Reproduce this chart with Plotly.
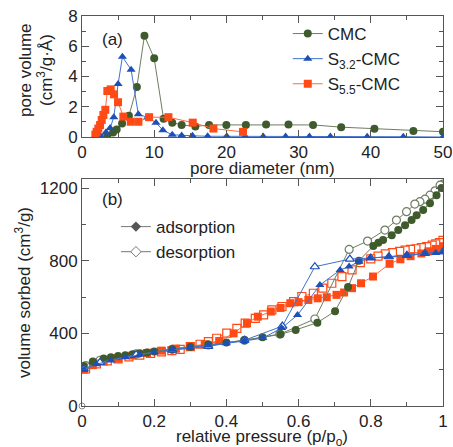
import plotly.graph_objects as go

# ---- (a) pore size distribution: pore diameter (nm) vs pore volume (cm3/g/A) ----
cmc_d = [3.5, 4.3, 4.8, 5.55, 6.5, 7.6, 8.65, 10.0, 11.3, 12.5, 13.8, 15.7, 17.6, 20.0, 22.7, 25.5, 28.6, 32.0, 35.9, 40.5, 45.9, 50.0]
cmc_v = [0.1, 0.3, 0.5, 0.9, 1.4, 3.3, 6.7, 5.2, 1.2, 0.95, 0.8, 0.7, 0.8, 0.8, 0.8, 0.82, 0.82, 0.8, 0.65, 0.55, 0.4, 0.35]

s32_d = [1.8, 2.5, 3.3, 3.9, 4.4, 5.0, 5.6, 6.8, 7.8, 9.1, 10.25, 11.2, 12.5, 13.8, 15.3, 17.4, 20.05, 22.6, 25.1, 28.2, 31.5, 34.4, 39.5, 44.5, 50.0]
s32_v = [0.05, 0.1, 0.3, 0.6, 1.3, 3.5, 5.3, 4.45, 1.5, 1.3, 0.95, 0.45, 0.15, 0.1, 0.08, 0.05, 0.05, 0.04, 0.03, 0.03, 0.03, 0.03, 0.02, 0.02, 0.0]

s55_d = [1.85, 2.03, 2.26, 2.5, 2.73, 2.96, 3.23, 3.51, 3.97, 4.44, 4.99, 5.73, 6.75, 7.81, 9.29, 11.97, 15.34, 18.2, 22.3]
s55_v = [0.16, 0.34, 0.56, 0.79, 1.13, 1.46, 1.8, 3.04, 3.15, 2.82, 2.3, 1.35, 1.01, 1.01, 1.31, 1.31, 0.95, 0.56, 0.34]

# ---- (b) N2 isotherms: relative pressure vs volume sorbed (cm3/g) ----
cmc_ads_p = [0.005, 0.03, 0.06, 0.08, 0.1, 0.12, 0.14, 0.16, 0.18, 0.2, 0.25, 0.3, 0.35, 0.4, 0.45, 0.5, 0.55,
             0.592, 0.652, 0.701, 0.737, 0.767, 0.807, 0.821, 0.834, 0.858, 0.876, 0.895, 0.913, 0.927, 0.945, 0.964, 0.982, 0.996]
cmc_ads_v = [220, 245, 262, 268, 275, 280, 285, 290, 295, 300, 312, 325, 338, 350, 362, 378, 395,
             419, 459, 522, 655, 800, 881, 899, 914, 941, 969, 996, 1024, 1051, 1079, 1117, 1161, 1200]
cmc_des_p = [1.0, 0.992, 0.978, 0.964, 0.95, 0.936, 0.922, 0.899, 0.871, 0.839, 0.791, 0.74, 0.645, 0.548, 0.45,
             0.35, 0.25, 0.15, 0.05, 0.01]
cmc_des_v = [1222, 1216, 1185, 1161, 1139, 1125, 1112, 1070, 1024, 969, 908, 862, 479, 396, 362,
             336, 312, 287, 252, 222]

s32_ads_p = [0.005, 0.04, 0.08, 0.12, 0.16, 0.2, 0.25, 0.3, 0.35, 0.4, 0.45, 0.501, 0.553, 0.597, 0.659, 0.715,
             0.74, 0.767, 0.798, 0.85, 0.9, 0.95, 0.98, 1.0]
s32_ads_v = [200, 230, 250, 268, 283, 296, 310, 322, 333, 345, 358, 374, 429, 501, 666, 749,
             768, 795, 815, 822, 830, 838, 843, 847]
s32_des_p = [1.0, 0.95, 0.9, 0.85, 0.8, 0.742, 0.645, 0.555, 0.45, 0.35, 0.25, 0.15, 0.05, 0.005]
s32_des_v = [850, 840, 830, 822, 815, 809, 767, 440, 362, 328, 308, 283, 240, 205]

s55_ads_p = [0.005, 0.03, 0.06, 0.1, 0.14, 0.18, 0.22, 0.26, 0.3, 0.34, 0.38, 0.42, 0.457, 0.487, 0.523, 0.55,
             0.577, 0.6, 0.627, 0.653, 0.678, 0.705, 0.726, 0.748, 0.773, 0.806, 0.852, 0.882, 0.91, 0.94, 0.96, 0.98, 1.0]
s55_ads_v = [200, 225, 245, 262, 278, 292, 305, 316, 328, 340, 358, 400, 456, 492, 520, 540,
             566, 572, 584, 593, 599, 612, 625, 649, 676, 713, 783, 808, 825, 840, 852, 865, 880]
s55_des_p = [1.0, 0.99, 0.98, 0.97, 0.955, 0.94, 0.925, 0.91, 0.895, 0.88, 0.86, 0.84, 0.82, 0.8, 0.771, 0.748,
             0.72, 0.692, 0.667, 0.641, 0.609, 0.586, 0.554, 0.526, 0.503, 0.48, 0.452, 0.429, 0.401, 0.373,
             0.35, 0.327, 0.3, 0.272, 0.249, 0.22, 0.19, 0.16, 0.13, 0.1, 0.07, 0.04, 0.01]
s55_des_v = [912, 900, 893, 886, 878, 872, 866, 862, 858, 852, 845, 838, 825, 810, 790, 750,
             713, 676, 649, 621, 603, 575, 548, 529, 502, 483, 456, 428, 401, 373,
             355, 340, 327, 312, 305, 298, 290, 280, 270, 260, 248, 232, 205]

GREEN_M, GREEN_L = "#3f5a2c", "#6f7d62"
BLUE_M, BLUE_L = "#1c4fb8", "#3f72cc"
ORANGE_M, ORANGE_L = "#ff4a16", "#ff6a40"
AXIS = "#555555"
FONT = "Liberation Sans, Arial, sans-serif"
FS = 17

W, H = 453, 447
ML, MR, MT, MB = 82, 10, 16, 41
PLOT_W, PLOT_H = W - ML - MR, H - MT - MB


def px(x, y):
    """Page pixel position -> paper coordinates."""
    return (x - ML) / PLOT_W, 1 - (y - MT) / PLOT_H


fig = go.Figure()

# panel (a)
fig.add_trace(go.Scatter(x=cmc_d, y=cmc_v, mode="lines+markers", name="CMC",
                         line=dict(color=GREEN_L, width=1),
                         marker=dict(symbol="circle", size=8, color=GREEN_M),
                         xaxis="x", yaxis="y", legend="legend"))
fig.add_trace(go.Scatter(x=s32_d, y=s32_v, mode="lines+markers", name="S<sub>3.2</sub>-CMC",
                         line=dict(color=BLUE_L, width=1),
                         marker=dict(symbol="triangle-up", size=8, color=BLUE_M),
                         xaxis="x", yaxis="y", legend="legend"))
fig.add_trace(go.Scatter(x=s55_d, y=s55_v, mode="lines+markers", name="S<sub>5.5</sub>-CMC",
                         line=dict(color=ORANGE_L, width=1),
                         marker=dict(symbol="square", size=8, color=ORANGE_M),
                         xaxis="x", yaxis="y", legend="legend"))

# panel (b): isotherms
def iso(x, y, lc, mc, sym, filled):
    marker = dict(symbol=sym, size=8, color=mc) if filled else \
        dict(symbol=sym, size=8, color="white", line=dict(color=mc, width=1.2))
    fig.add_trace(go.Scatter(x=x, y=y, mode="lines+markers", showlegend=False,
                             line=dict(color=lc, width=1), marker=marker,
                             xaxis="x2", yaxis="y2"))

iso(s55_des_p, s55_des_v, ORANGE_L, ORANGE_M, "square", False)
iso(s55_ads_p, s55_ads_v, ORANGE_L, ORANGE_M, "square", True)
iso(cmc_des_p, cmc_des_v, GREEN_L, GREEN_L, "circle", False)
iso(cmc_ads_p, cmc_ads_v, GREEN_L, GREEN_M, "circle", True)
iso(s32_des_p, s32_des_v, BLUE_L, BLUE_M, "triangle-up", False)
iso(s32_ads_p, s32_ads_v, BLUE_L, BLUE_M, "triangle-up", True)

fig.add_trace(go.Scatter(x=[0], y=[0], mode="markers", showlegend=False, cliponaxis=False,
                         marker=dict(symbol="circle", size=6, color="white", line=dict(color="#888", width=1)),
                         xaxis="x2", yaxis="y2"))

# legend entries for panel (b)
fig.add_trace(go.Scatter(x=[None], y=[None], mode="lines+markers", name="adsorption",
                         line=dict(color="#777", width=1),
                         marker=dict(symbol="diamond", size=8, color="#555"),
                         xaxis="x2", yaxis="y2", legend="legend2"))
fig.add_trace(go.Scatter(x=[None], y=[None], mode="lines+markers", name="desorption",
                         line=dict(color="#777", width=1),
                         marker=dict(symbol="diamond", size=8, color="white", line=dict(color="#777", width=1)),
                         xaxis="x2", yaxis="y2", legend="legend2"))

common = dict(showline=True, linecolor=AXIS, linewidth=1, mirror="allticks", ticks="inside",
              ticklen=7, tickcolor=AXIS, showgrid=False, zeroline=False,
              tickfont=dict(size=FS, color="#222", family=FONT))
minor = dict(ticks="inside", ticklen=4, tickcolor=AXIS, showgrid=False)


def label(text, x, y, angle=0, xanchor="center", yanchor="middle"):
    ax, ay = px(x, y)
    return dict(text=text, x=ax, y=ay, xref="paper", yref="paper", showarrow=False,
                textangle=angle, xanchor=xanchor, yanchor=yanchor,
                font=dict(size=FS, family=FONT, color="#222"))


fig.update_layout(
    width=W, height=H, template="none",
    paper_bgcolor="white", plot_bgcolor="white",
    margin=dict(l=ML, r=MR, t=MT, b=MB),
    font=dict(family=FONT, size=FS, color="#222"),
    xaxis=dict(domain=[0, 1], range=[0, 50], dtick=10, anchor="y",
               minor=dict(dtick=5, **minor), **common),
    yaxis=dict(domain=[0.6897, 1], range=[0, 8], dtick=2, anchor="x",
               minor=dict(dtick=1, **minor), **common),
    xaxis2=dict(domain=[0, 1], range=[0, 1], dtick=0.2, anchor="y2",
                minor=dict(dtick=0.1, **minor), **common),
    yaxis2=dict(domain=[0, 0.582], range=[0, 1250], tickvals=[0, 400, 800, 1200], anchor="x2",
                minor=dict(tickvals=[200, 600, 1000], **minor),
                title=dict(text="volume sorbed (cm<sup>3</sup>/g)", standoff=4, font=dict(size=FS)), **common),
    legend=dict(x=0.57, y=1.0, xanchor="left", yanchor="top", bgcolor="rgba(0,0,0,0)",
                font=dict(size=FS, family=FONT), tracegroupgap=0, itemwidth=30),
    legend2=dict(x=0.094, y=0.505, xanchor="left", yanchor="top", bgcolor="rgba(0,0,0,0)",
                 font=dict(size=FS, family=FONT), tracegroupgap=0, itemwidth=30),
    annotations=[
        label("(a)", 100, 28, xanchor="left", yanchor="top"),
        label("(b)", 100, 188, xanchor="left", yanchor="top"),
        label("pore volume", 26, 70, angle=-90),
        label("(cm<sup>3</sup>/g·Å)", 45, 70, angle=-90),
        label("pore diameter (nm)", 262, 169),
        label("relative pressure (p/p<sub>o</sub>)", 262, 438),
    ],
)

fig.write_html("out.html")
